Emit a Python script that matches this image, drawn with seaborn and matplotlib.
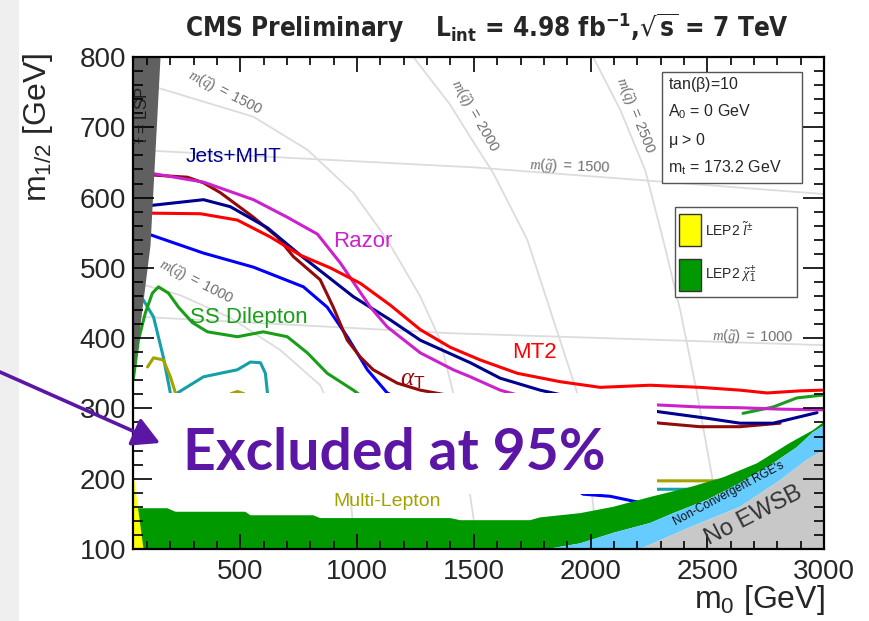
import matplotlib
matplotlib.use("Agg")
import matplotlib.pyplot as plt
import seaborn as sns
from matplotlib import font_manager
from matplotlib.patches import Rectangle, FancyArrowPatch, ArrowStyle
from matplotlib.ticker import MultipleLocator

# ---------------- data (m0, m1/2 in GeV) ----------------
razor_m0 = [72, 128, 342, 556, 701, 830, 928, 1057, 1129, 1271, 1412, 1485, 1613, 1699, 2000, 2285, 2469, 2640, 2812, 2991]
razor_m12 = [635, 634, 622, 597, 572, 548, 507, 444, 416, 379, 355, 345, 326, 318, 311, 305, 302, 301, 299, 298]

mt2_m0 = [72, 329, 487, 628, 757, 885, 1014, 1142, 1271, 1399, 1527, 1686, 1870, 2041, 2255, 2469, 2640, 2756, 2897, 2991]
mt2_m12 = [578, 577, 568, 544, 518, 500, 478, 447, 412, 387, 369, 350, 338, 330, 333, 330, 326, 322, 325, 326]

jets_m0 = [72, 123, 342, 457, 616, 757, 984, 1142, 1271, 1485, 1613, 1784, 2000, 2298, 2499, 2640, 2782, 2970]
jets_m12 = [589, 589, 597, 587, 557, 518, 459, 426, 397, 365, 343, 326, 310, 295, 286, 279, 279, 294]

alphat_m0 = [72, 128, 273, 342, 414, 556, 658, 727, 842, 898, 958, 1014, 1069, 1172, 1271, 1500, 2000, 2298, 2469, 2640, 2812]
alphat_m12 = [631, 632, 629, 621, 607, 572, 544, 516, 483, 444, 397, 373, 355, 336, 326, 312, 292, 279, 274, 274, 279]

blue_m0 = [115, 342, 556, 770, 872, 958, 1044, 1129, 1500, 1850, 1968, 2084, 2199, 2300]
blue_m12 = [547, 521, 501, 473, 444, 402, 355, 322, 262, 205, 178, 175, 167, 152]

teal_m0 = [85, 128, 170, 200, 217, 230, 342, 414, 487, 543, 586, 607, 616, 628, 1500, 2280, 2298, 2426, 2512, 2600]
teal_m12 = [454, 430, 373, 322, 284, 322, 345, 350, 355, 366, 365, 350, 322, 255, 200, 185, 185, 185, 185, 185]

olive_m0 = [102, 128, 170, 200, 222, 265, 372, 430, 460, 487, 515, 545, 586, 1185, 2281, 2298, 2542, 2640]
olive_m12 = [359, 372, 369, 345, 322, 269, 298, 310, 321, 324, 321, 310, 284, 212, 197, 197, 197, 197]

ssdil_m0 = [42, 63, 93, 123, 149, 192, 235, 295, 359, 487, 598, 701, 787, 872, 984, 1099, 1271]
ssdil_m12 = [343, 397, 436, 464, 473, 464, 444, 422, 409, 402, 409, 402, 379, 350, 326, 298, 255]
ssdil_right_m0 = [2653, 2782, 2884, 2996]
ssdil_right_m12 = [293, 302, 315, 319]

# iso-mass lines
g1500_m0, g1500_m12 = [40, 1500, 3000], [668, 643, 605]
g1000_m0, g1000_m12 = [40, 1400, 3000], [431, 407, 390]
q1000_m0 = [42, 243, 457, 671, 842, 949, 992]
q1000_m12 = [480, 461, 429, 383, 333, 255, 100]
q1500_m0 = [60, 158, 556, 787, 984, 1129, 1271, 1356, 1412, 1485, 1519]
q1500_m12 = [770, 755, 715, 668, 607, 540, 459, 397, 322, 174, 100]
q2000_m0 = [1241, 1399, 1485, 1583, 1729, 1827, 1943, 2007, 2032]
q2000_m12 = [800, 732, 686, 635, 540, 440, 322, 174, 100]
q2500_m0 = [2011, 2127, 2234, 2311, 2384, 2456, 2521, 2555]
q2500_m12 = [800, 725, 639, 540, 440, 322, 202, 100]

# excluded / theory regions
lsp_m0, lsp_m12 = [40, 158, 115, 64, 40], [800, 800, 532, 397, 350]
lep_sl_m0, lep_sl_m12 = [40, 40, 85], [100, 212, 100]
cha_top_m0 = [40, 187, 222, 521, 543, 812, 842, 1399, 1442, 1741, 1784, 1955, 2097, 2255, 2426, 2568, 2713, 2854, 2952, 3000]
cha_top_m12 = [158, 158, 153, 153, 148, 148, 144, 144, 141, 141, 145, 151, 160, 174, 188, 202, 222, 251, 269, 281]
rge_top_m0 = [1814, 1955, 2097, 2255, 2354, 2499, 2640, 2782, 2884, 2952, 3000]
rge_top_m12 = [100, 108, 123, 137, 151, 170, 194, 222, 245, 266, 276]
ewsb_top_m0 = [2212, 2426, 2640, 2812, 2927, 3000]
ewsb_top_m12 = [100, 131, 160, 198, 227, 241]

# ---------------- style ----------------
sns.set_theme(style="ticks")
flist = font_manager.fontManager.ttflist
avail = {f.name for f in flist}
SANS = "Liberation Sans" if "Liberation Sans" in avail else "DejaVu Sans"
SERIF = "Liberation Serif" if "Liberation Serif" in avail else "DejaVu Serif"
BIG = "Lato" if "Lato" in avail else SANS

# look for a condensed bold sans for the title
title_prop = None
for f in flist:
    nm = f.name
    if ("Narrow" in nm or "Condensed" in nm or f.stretch in ("condensed", "semi-condensed")) \
            and "Serif" not in nm and "Mono" not in nm:
        w = f.weight if isinstance(f.weight, int) else 400
        if w >= 600:
            title_prop = font_manager.FontProperties(fname=f.fname)
            break
title_condensed = title_prop is not None

plt.rcParams["font.family"] = [SANS, "DejaVu Sans"]
plt.rcParams["mathtext.fontset"] = "custom"
plt.rcParams["mathtext.rm"] = SANS
plt.rcParams["mathtext.sf"] = SANS
plt.rcParams["mathtext.it"] = SERIF + ":italic"
plt.rcParams["mathtext.bf"] = SANS + ":bold"

W, H = 869, 621
def F(x, y):
    return (x / W, 1 - y / H)

fig = plt.figure(figsize=(W / 100, H / 100), dpi=100)
fig.patch.set_facecolor("white")
fig.patches.append(Rectangle((0, 0), 19 / W, 1, transform=fig.transFigure,
                             facecolor="#efefef", edgecolor="none", zorder=0))
ax = fig.add_axes([133 / W, 1 - 549 / H, (824 - 133) / W, (549 - 57) / H])
ax.set_facecolor("white")

ISO = "#dcdcdc"
for xs, ys in [(g1500_m0, g1500_m12), (g1000_m0, g1000_m12), (q1000_m0, q1000_m12),
               (q1500_m0, q1500_m12), (q2000_m0, q2000_m12), (q2500_m0, q2500_m12)]:
    sns.lineplot(x=xs, y=ys, sort=False, estimator=None, color=ISO, lw=1.3,
                 ax=ax, zorder=1.5, legend=False)

TEAL, OLIVE, BLUE, GREEN = "#14a0a8", "#a3a300", "#0000ff", "#1a9e1a"
DRED, NAVY, MAG, RED = "#920a0a", "#00008f", "#cc22cc", "#ff0000"
curves = [(teal_m0, teal_m12, TEAL), (olive_m0, olive_m12, OLIVE), (blue_m0, blue_m12, BLUE),
          (ssdil_m0, ssdil_m12, GREEN), (ssdil_right_m0, ssdil_right_m12, GREEN),
          (alphat_m0, alphat_m12, DRED), (jets_m0, jets_m12, NAVY),
          (razor_m0, razor_m12, MAG), (mt2_m0, mt2_m12, RED)]
for xs, ys, c in curves:
    sns.lineplot(x=xs, y=ys, sort=False, estimator=None, color=c, lw=2.2,
                 ax=ax, zorder=2, legend=False)
for ln in ax.lines:
    ln.set_solid_joinstyle("round")
    ln.set_solid_capstyle("round")

# regions
ax.fill(cha_top_m0 + rge_top_m0[::-1] + [40], cha_top_m12 + rge_top_m12[::-1] + [100],
        color="#009900", lw=0, zorder=2.2)
ax.fill(rge_top_m0 + ewsb_top_m0[::-1], rge_top_m12 + ewsb_top_m12[::-1],
        color="#66ccff", lw=0, zorder=2.2)
ax.fill(ewsb_top_m0 + [3000], ewsb_top_m12 + [100], color="#c8c8c8", lw=0, zorder=2.2)
ax.fill(lep_sl_m0, lep_sl_m12, color="#ffff00", lw=0, zorder=2.25)
ax.fill(lsp_m0, lsp_m12, color="#606060", lw=0, zorder=2.3)

ax.set_xlim(40, 3000)
ax.set_ylim(100, 800)
ax.set_axisbelow(False)
ax.xaxis.set_major_locator(MultipleLocator(500))
ax.xaxis.set_minor_locator(MultipleLocator(100))
ax.yaxis.set_major_locator(MultipleLocator(100))
ax.yaxis.set_minor_locator(MultipleLocator(20))
ax.tick_params(which="both", direction="in", top=True, right=True, color="black", width=1.2)
ax.tick_params(axis="x", which="major", length=11, labelsize=20, pad=7)
ax.tick_params(axis="x", which="minor", length=6)
ax.tick_params(axis="y", which="major", length=15, labelsize=20, pad=5)
ax.tick_params(axis="y", which="minor", length=7)
for s in ax.spines.values():
    s.set_color("black")
    s.set_linewidth(1.6)
ax.set_xlabel("")
ax.set_ylabel("")

# curve labels
ax.text(265, 658, "Jets+MHT", color=NAVY, fontsize=15, va="center", zorder=4)
ax.text(898, 537, "Razor", color=MAG, fontsize=16, va="center", zorder=4)
ax.text(286, 430, "SS Dilepton", color=GREEN, fontsize=16, va="center", zorder=4)
ax.text(1664, 380, "MT2", color=RED, fontsize=16, va="center", zorder=4)
ax.text(1185, 342, r"$\alpha_{\mathregular{T}}$", color=DRED, fontsize=18, va="center", zorder=4)
ax.text(898, 168, "Multi-Lepton", color=OLIVE, fontsize=14, va="center", zorder=4)
ax.text(2590, 178, "Non-Convergent RGE's", rotation=28, fontsize=8.5, color="#111111",
        ha="center", va="center", rotation_mode="anchor", zorder=4)
ax.text(2700, 148, "No EWSB", rotation=27, fontsize=17, color="#333333",
        ha="center", va="center", rotation_mode="anchor", zorder=4)
ax.text(82, 717, r"$\tilde{\tau}$ = LSP", rotation=90, fontsize=12, color="#1a1a1a",
        ha="center", va="center", zorder=4)

ISOTXT = "#707070"
iso_labels = [(436, 750, r"$\mathit{m(\tilde{q})\ =\ 1500}$", -27),
              (1506, 717, r"$\mathit{m(\tilde{q})\ =\ 2000}$", -60),
              (2191, 717, r"$\mathit{m(\tilde{q})\ =\ 2500}$", -68),
              (1913, 645, r"$\mathit{m(\tilde{g})\ =\ 1500}$", -2),
              (312, 480, r"$\mathit{m(\tilde{q})\ =\ 1000}$", -27),
              (2696, 402, r"$\mathit{m(\tilde{g})\ =\ 1000}$", -1)]
for x, y, s, r in iso_labels:
    ax.text(x, y, s, rotation=r, color=ISOTXT, fontsize=10.5, ha="center", va="center",
            rotation_mode="anchor", zorder=1.8)

# info box
ax.add_patch(Rectangle(F(662, 183), 140 / W, 111 / H, transform=fig.transFigure,
                       facecolor="white", edgecolor="#555555", lw=1, zorder=5, clip_on=False))
for yy, s in [(85, r"tan($\mathregular{\beta}$)=10"), (112, r"A$_{\mathregular{0}}$ = 0 GeV"),
              (140, r"$\mathregular{\mu}$ > 0"), (168, r"m$_{\mathregular{t}}$ = 173.2 GeV")]:
    fig.text(*F(668, yy), s, fontsize=11.5, va="center", ha="left", zorder=6)

# legend box
ax.add_patch(Rectangle(F(675, 297), 122 / W, 90 / H, transform=fig.transFigure,
                       facecolor="white", edgecolor="#555555", lw=1, zorder=5, clip_on=False))
ax.add_patch(Rectangle(F(679, 246), 22 / W, 32 / H, transform=fig.transFigure,
                       facecolor="#ffff00", edgecolor="#333333", lw=1, zorder=6, clip_on=False))
ax.add_patch(Rectangle(F(679, 291), 22 / W, 32 / H, transform=fig.transFigure,
                       facecolor="#009900", edgecolor="#333333", lw=1, zorder=6, clip_on=False))
fig.text(*F(705, 230), r"LEP2 $\tilde{l}^{\pm}$", fontsize=10, va="center", zorder=7)
fig.text(*F(705, 275), r"LEP2 $\tilde{\chi}^{\pm}_{1}$", fontsize=10, va="center", zorder=7)

# white overlay box with big text and arrow
ax.add_patch(Rectangle(F(152, 494), (657 - 152) / W, (494 - 393) / H, transform=fig.transFigure,
                       facecolor="white", edgecolor="none", zorder=3))
PURPLE = "#5c16a6"
fig.text(*F(183, 470), "Excluded at 95%", fontsize=41, fontweight="bold", family=[BIG, "DejaVu Sans"],
         color=PURPLE, ha="left", va="baseline", zorder=8)
fig.add_artist(FancyArrowPatch(F(0, 372), F(160, 443), transform=fig.transFigure,
                               arrowstyle=ArrowStyle("-|>", head_length=1.65, head_width=0.9),
                               mutation_scale=10, lw=2.6, color=PURPLE,
                               shrinkA=0, shrinkB=0, zorder=8))

# title and axis labels
title = r"CMS Preliminary    L$_{\mathregular{int}}$ = 4.98 fb$^{\mathregular{-1}}$,$\mathregular{\sqrt{s}}$ = 7 TeV"
if title_condensed:
    tprop = title_prop.copy()
    tprop.set_size(23)
    t = fig.text(*F(185, 37), title, fontproperties=tprop, ha="left", va="baseline")
else:
    t = fig.text(*F(185, 37), title, fontsize=20.5, fontweight="bold",
                 family=[SANS, "DejaVu Sans"], ha="left", va="baseline")
# fit title width to the reference span (185 -> 790 px)
fig.canvas.draw()
bb = t.get_window_extent()
scale = (790 - 185) / max(bb.width, 1)
t.set_fontsize(t.get_fontsize() * scale)

fig.text(*F(38, 127), r"$\mathregular{m_{1/2}}$ [GeV]", rotation=90, fontsize=23,
         ha="center", va="center")
fig.text(*F(825, 600), r"$\mathregular{m_{0}}$ [GeV]", fontsize=23, ha="right", va="center")

fig.savefig("out.png", dpi=100, facecolor="white")
